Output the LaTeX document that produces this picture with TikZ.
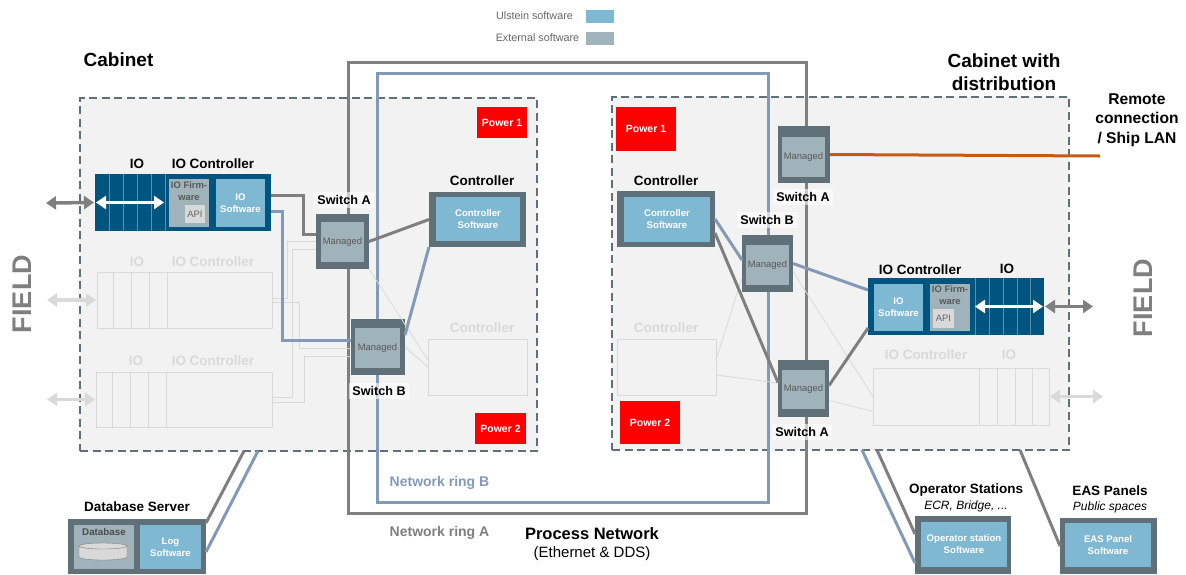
\documentclass[tikz,border=0pt]{standalone}
\usepackage{fontspec}
\setmainfont{Liberation Sans}
\usetikzlibrary{arrows.meta}

\definecolor{frameGrey}{HTML}{5F7078}
\definecolor{softBlue}{HTML}{7FB8D2}
\definecolor{extGrey}{HTML}{A0B2BA}
\definecolor{ioBlue}{HTML}{005580}
\definecolor{ringA}{HTML}{7F7F7F}
\definecolor{ringB}{HTML}{8499B5}
\definecolor{ghost}{HTML}{D9D9D9}
\definecolor{remoteOrange}{HTML}{C55A11}

\tikzset{
    plain/.style={inner sep=0pt, outer sep=0pt},
    cabinet/.style={plain, draw=frameGrey, fill=black!5, line width=2pt, dash pattern=on 8pt off 4.5pt},
    ring/.style={plain, draw, line width=3pt},
    frame/.style={plain, fill=frameGrey},
    soft/.style={plain, fill=softBlue, text=white, align=center, font=\bfseries\fontsize{9.6}{12}\selectfont},
    ext/.style={plain, fill=extGrey, text=black!65, align=center, font=\fontsize{9.4}{12}\selectfont},
    firm/.style={plain, text=black!65, align=center, font=\bfseries\fontsize{9.4}{12}\selectfont},
    api/.style={plain, fill=ghost, text=black!60, font=\fontsize{9.4}{12}\selectfont},
    power/.style={plain, fill=red, text=white, font=\bfseries\fontsize{10.5}{12}\selectfont},
    title/.style={plain, font=\bfseries\fontsize{13.5}{15}\selectfont},
    swlabel/.style={inner sep=3pt, fill=white, fill opacity=.6, text opacity=1, font=\bfseries\fontsize{12.6}{15}\selectfont},
    big/.style={plain, align=center, font=\bfseries\fontsize{19}{23}\selectfont},
    mid/.style={plain, align=center, font=\bfseries\fontsize{16.5}{19.5}\selectfont},
    legendtxt/.style={plain, text=black!60, font=\fontsize{10.8}{12}\selectfont},
    field/.style={plain, text=ringA, rotate=90, font=\bfseries\fontsize{27}{30}\selectfont},
    ghostbox/.style={plain, draw=ghost, line width=.8pt},
    ghosttitle/.style={title, text=ghost},
    wireA/.style={draw=ringA, line width=3pt},
    wireB/.style={draw=ringB, line width=3pt},
    wireG/.style={draw=ghost, line width=.8pt},
    both/.style={{Triangle[width=13pt,length=10pt]}-{Triangle[width=13pt,length=10pt]}, line width=3.5pt}
}

\begin{document}
\begin{tikzpicture}[x=1pt, y=-1pt]
    \useasboundingbox (0,0) rectangle (1186,574);

    % Legend
    \node[legendtxt] (legUlstein) at (534.5,16) {Ulstein software};
    \node[plain, fill=softBlue, minimum width=28pt, minimum height=13pt] (swatchUlstein) at (600,16.5) {};
    \node[legendtxt] (legExternal) at (537.5,38) {External software};
    \node[plain, fill=extGrey, minimum width=28pt, minimum height=13pt] (swatchExternal) at (600,38.5) {};

    % Cabinets
    \node[cabinet, minimum width=457pt, minimum height=353pt] (cabL) at (308.5,274.5) {};
    \node[cabinet, minimum width=457pt, minimum height=353pt] (cabR) at (840.5,273.5) {};
    \node[big] (cabTitleL) at (118.5,60) {Cabinet};
    \node[big] (cabTitleR) at (1004,72) {Cabinet with\\distribution};

    % Faded parts, left cabinet
    \node[ghostbox, minimum width=175pt, minimum height=56pt] (ghostIoAL) at (184.5,300) {};
    \node[ghostbox, minimum width=176pt, minimum height=55pt] (ghostIoBL) at (184,399.5) {};
    \node[ghostbox, minimum width=99pt, minimum height=56pt] (ghostCtrlL) at (477.5,367) {};
    \foreach \x in {16,34,52,70} {
        \draw[wireG] ([xshift=\x pt]ghostIoAL.north west) -- ([xshift=\x pt]ghostIoAL.south west);
        \draw[wireG] ([xshift=\x pt]ghostIoBL.north west) -- ([xshift=\x pt]ghostIoBL.south west);
    }
    \node[ghosttitle] (ghostIoTitleAL) at (137,262) {IO};
    \node[ghosttitle] (ghostIocTitleAL) at (213,262) {IO Controller};
    \node[ghosttitle] (ghostIoTitleBL) at (136,361) {IO};
    \node[ghosttitle] (ghostIocTitleBL) at (213,361) {IO Controller};
    \node[ghosttitle] (ghostCtrlTitleL) at (482,328) {Controller};

    % Faded parts, right cabinet
    \node[ghostbox, minimum width=99pt, minimum height=56pt] (ghostCtrlR) at (666.5,367) {};
    \node[ghostbox, minimum width=176pt, minimum height=57pt] (ghostIoR) at (961,396.5) {};
    \foreach \x in {17,34,52,70} {
        \draw[wireG] ([xshift=-\x pt]ghostIoR.north east) -- ([xshift=-\x pt]ghostIoR.south east);
    }
    \node[ghosttitle] (ghostCtrlTitleR) at (666,328) {Controller};
    \node[ghosttitle] (ghostIocTitleR) at (926,355) {IO Controller};
    \node[ghosttitle] (ghostIoTitleR) at (1009,355) {IO};

    % Process network rings
    \node[ring, draw=ringA, minimum width=458pt, minimum height=451pt] (netA) at (577,287.5) {};
    \node[ring, draw=ringB, minimum width=391pt, minimum height=429pt] (netB) at (572.5,287.5) {};
    \node[plain, text=ringB, font=\bfseries\fontsize{14}{16}\selectfont] (netBTitle) at (439.5,483) {Network ring B};
    \node[plain, text=ringA, font=\bfseries\fontsize{14}{16}\selectfont] (netATitle) at (439.5,533) {Network ring A};
    \node[mid] (procTitle) at (592,534) {Process Network};
    \node[plain, font=\fontsize{15}{17}\selectfont] (procSub) at (592,554) {(Ethernet \& DDS)};

    % Power
    \node[power, minimum width=50pt, minimum height=31pt] (powAL) at (502,122.5) {Power 1};
    \node[power, minimum width=51pt, minimum height=31pt] (powBL) at (500.5,428.5) {Power 2};
    \node[power, minimum width=60pt, minimum height=44pt] (powAR) at (646,129) {Power 1};
    \node[power, minimum width=60pt, minimum height=43pt] (powBR) at (650,422.5) {Power 2};

    % IO and controller, left
    \node[plain, fill=ioBlue, minimum width=176pt, minimum height=57pt] (ioBlockL) at (183,202.5) {};
    \foreach \x in {14,28,42,56,70} {
        \draw[draw=white!35!ioBlue, line width=.8pt] ([xshift=\x pt]ioBlockL.north west) -- ([xshift=\x pt]ioBlockL.south west);
    }
    \node[ext, minimum width=40pt, minimum height=48pt] (ioFirmL) at (189,203) {};
    \node[firm] (ioFirmTextL) at (189,191) {IO Firm-\\ware};
    \node[api, minimum width=20pt, minimum height=18pt] (ioApiL) at (195,214) {API};
    \node[soft, minimum width=49pt, minimum height=48pt] (ioSoftL) at (240.5,203) {IO\\Software};
    \node[title] (ioTitleL) at (137,164) {IO};
    \node[title] (iocTitleL) at (213,164) {IO Controller};
    \node[frame, minimum width=97pt, minimum height=55pt] (ctrlL) at (477.5,219.5) {};
    \node[soft, minimum width=84pt, minimum height=44pt] (ctrlSoftL) at (478,219) {Controller\\Software};
    \node[title] (ctrlTitleL) at (482,181) {Controller};

    % IO and controller, right
    \node[plain, fill=ioBlue, minimum width=176pt, minimum height=57pt] (ioBlockR) at (956,306.5) {};
    \foreach \x in {14,27,41,55,69} {
        \draw[draw=white!35!ioBlue, line width=.8pt] ([xshift=-\x pt]ioBlockR.north east) -- ([xshift=-\x pt]ioBlockR.south east);
    }
    \node[ext, minimum width=40pt, minimum height=47pt] (ioFirmR) at (950,307.5) {};
    \node[firm] (ioFirmTextR) at (950,295) {IO Firm-\\ware};
    \node[api, minimum width=21pt, minimum height=19pt] (ioApiR) at (943.5,318) {API};
    \node[soft, minimum width=49pt, minimum height=47pt] (ioSoftR) at (898.5,307.5) {IO\\Software};
    \node[title] (iocTitleR) at (920,270) {IO Controller};
    \node[title] (ioTitleR) at (1007,269) {IO};
    \node[frame, minimum width=98pt, minimum height=56pt] (ctrlR) at (666,219) {};
    \node[soft, minimum width=86pt, minimum height=45pt] (ctrlSoftR) at (667,219.5) {Controller\\Software};
    \node[title] (ctrlTitleR) at (666,181) {Controller};

    % Switches
    \node[frame, minimum width=53pt, minimum height=55pt] (swAL) at (342.5,241.5) {};
    \node[ext, minimum width=43pt, minimum height=40pt] (swInAL) at (342.5,242) {Managed};
    \node[swlabel] (swTitleAL) at (344,200) {Switch A};
    \node[frame, minimum width=54pt, minimum height=56pt] (swBL) at (378,347) {};
    \node[ext, minimum width=45pt, minimum height=40pt] (swInBL) at (377.5,348) {Managed};
    \node[swlabel] (swTitleBL) at (379,391) {Switch B};
    \node[frame, minimum width=52pt, minimum height=57pt] (swAR) at (804,154.5) {};
    \node[ext, minimum width=43pt, minimum height=40pt] (swInAR) at (803.5,157) {Managed};
    \node[swlabel] (swTitleAR) at (803,197) {Switch A};
    \node[frame, minimum width=51pt, minimum height=57pt] (swBR) at (767.5,263.5) {};
    \node[ext, minimum width=43pt, minimum height=40pt] (swInBR) at (767.5,265) {Managed};
    \node[swlabel] (swTitleBR) at (767,220) {Switch B};
    \node[frame, minimum width=51pt, minimum height=57pt] (swCR) at (803.5,388.5) {};
    \node[ext, minimum width=43pt, minimum height=39pt] (swInCR) at (803.5,389.5) {Managed};
    \node[swlabel] (swTitleCR) at (802,432) {Switch A};

    % Faded wires
    \draw[wireG] ([yshift=2pt]ghostIoAL.east) -- ++(15,0) |- (swAL.west);
    \draw[wireG] ([yshift=-2pt]ghostIoAL.east) -- ++(27,0) |- ([yshift=-1pt]swBL.west);
    \draw[wireG] ([yshift=2.5pt]ghostIoBL.east) -- ++(20,0) |- ([yshift=-8pt]swAL.west);
    \draw[wireG] ([yshift=-2.5pt]ghostIoBL.east) -- ++(32,0) |- ([yshift=-9pt]swBL.west);
    \draw[wireG] (swAL.south east) -- ([yshift=7pt]ghostCtrlL.west);
    \draw[wireG] (swBL.east) -- (ghostCtrlL.west);
    \draw[wireG] ([yshift=-14pt]swBR.west) -- ([yshift=7pt]ghostCtrlR.east);
    \draw[wireG] ([yshift=-8pt]ghostCtrlR.east) -- ([yshift=5.5pt]swCR.west);
    \draw[wireG] ([yshift=-8pt]swBR.east) -- (ghostIoR.west);
    \draw[wireG] ([yshift=-12pt]swCR.east) -- ([yshift=-15pt]ghostIoR.west);

    % Wires
    \draw[wireA] ([yshift=7.5pt]ioBlockL.east) -- ++(32,0) |- ([yshift=7pt]swAL.west);
    \draw[wireB] ([yshift=-8.5pt]ioBlockL.east) -- ++(11,0) |- ([yshift=7pt]swBL.west);
    \draw[wireA] (swAL.east) -- (ctrlL.west);
    \draw[wireB] ([yshift=12pt]swBL.east) -- (ctrlL.south west);
    \draw[wireB] (ctrlR.east) -- ([yshift=3.5pt]swBR.west);
    \draw[wireA] ([yshift=-14pt]ctrlR.east) -- ([yshift=6pt]swCR.west);
    \draw[wireB] (swBR.east) -- ([yshift=16.5pt]ioBlockR.west);
    \draw[wireA] ([yshift=3pt]swCR.east) -- ([yshift=7pt]ioBlockR.south west);

    % Remote connection
    \coordinate (remoteEnd) at (1100,156);
    \draw[draw=remoteOrange, line width=3pt] (swAR.east) -- (remoteEnd);
    \node[mid, font=\bfseries\fontsize{15.6}{19.5}\selectfont] (remoteTitle) at (1137,120) {Remote\\connection\\/ Ship LAN};

    % Field side
    \node[field] (fieldL) at (22,294) {FIELD};
    \node[field] (fieldR) at (1143,298) {FIELD};
    \coordinate (fieldEndL) at (46,203);
    \coordinate (fieldEndAL) at (47,300);
    \coordinate (fieldEndBL) at (47,399.5);
    \coordinate (fieldEndR) at (1093,306.5);
    \coordinate (fieldEndGR) at (1103,396.5);
    \draw[both, draw=ringA, shorten >=1pt] (fieldEndL) -- (ioBlockL.west);
    \draw[both, draw=ghost, shorten >=1pt] (fieldEndAL) -- (ghostIoAL.west);
    \draw[both, draw=ghost, shorten >=1pt] (fieldEndBL) -- (ghostIoBL.west);
    \draw[both, draw=ringA, shorten >=1pt] (fieldEndR) -- (ioBlockR.east);
    \draw[both, draw=ghost, shorten >=1pt] (fieldEndGR) -- (ghostIoR.east);
    \draw[both, draw=white, shorten >=5pt, shorten <=1pt] (ioBlockL.west) -- (ioBlockL.west -| ioFirmL.west);
    \draw[both, draw=white, shorten >=5pt, shorten <=1pt] (ioBlockR.east) -- (ioBlockR.east -| ioFirmR.east);

    % Database server
    \node[frame, minimum width=138pt, minimum height=55pt] (dbServer) at (137,546.5) {};
    \node[ext, minimum width=60pt, minimum height=44pt] (dbBox) at (104,547) {};
    \node[plain, text=black!70, font=\bfseries\fontsize{9.8}{12}\selectfont] (dbText) at (104,532) {Database};
    \draw[draw=black!50, fill=ghost] (79,546) -- (79,557) arc[start angle=180, end angle=360, x radius=24pt, y radius=3pt]
        -- (127,546) arc[start angle=0, end angle=360, x radius=24pt, y radius=3pt];
    \node[soft, minimum width=61pt, minimum height=44pt] (logSoft) at (170.5,547) {Log\\Software};
    \node[title] (dbTitle) at (137,507) {Database Server};
    \draw[wireA] ([xshift=-64.5pt]cabL.south) -- ([yshift=23.5pt]dbServer.east);
    \draw[wireB] ([xshift=-50.5pt]cabL.south) -- ([yshift=-5.5pt]dbServer.east);

    % Operator stations
    \node[frame, minimum width=96pt, minimum height=58pt] (opStation) at (963,545) {};
    \node[soft, minimum width=86pt, minimum height=45pt] (opSoft) at (964,544.5) {Operator station\\Software};
    \node[title] (opTitle) at (966,490) {Operator Stations};
    \node[plain, font=\itshape\fontsize{12}{14}\selectfont] (opSub) at (966,506) {ECR, Bridge, ...};
    \draw[wireB] ([xshift=21.5pt]cabR.south) -- ([yshift=-18pt]opStation.west);
    \draw[wireA] ([xshift=36.5pt]cabR.south) -- ([yshift=11pt]opStation.west);

    % EAS panels
    \node[frame, minimum width=97pt, minimum height=56pt] (easPanel) at (1108.5,546) {};
    \node[soft, minimum width=86pt, minimum height=44pt] (easSoft) at (1108,545) {EAS Panel\\Software};
    \node[title] (easTitle) at (1110,491) {EAS Panels};
    \node[plain, font=\itshape\fontsize{12}{14}\selectfont] (easSub) at (1110,507) {Public spaces};
    \draw[wireA] ([xshift=179.5pt]cabR.south) -- (easPanel.west);

\end{tikzpicture}
\end{document}
